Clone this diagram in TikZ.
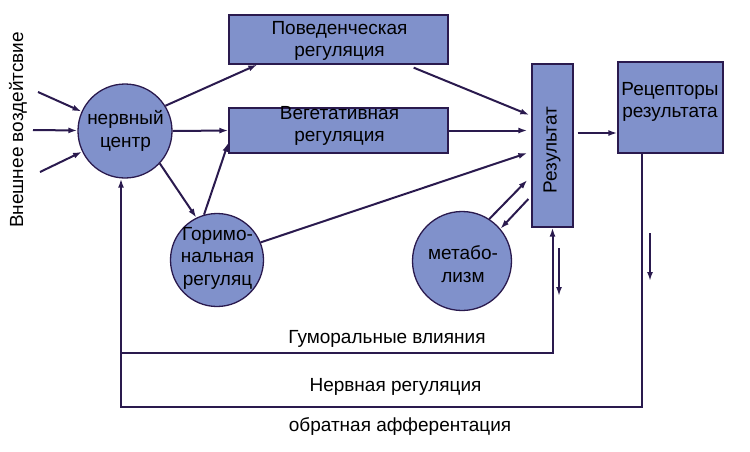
\documentclass[tikz,border=0pt]{standalone}
\usepackage{fontspec}
\setmainfont{Liberation Sans}
\usetikzlibrary{arrows.meta,calc}
\definecolor{fillc}{RGB}{128,145,203}
\definecolor{linec}{RGB}{42,26,78}
\begin{document}
\begin{tikzpicture}[x=1pt,y=-1pt,
  every node/.style={font=\fontsize{19}{22.5}\selectfont, text=black},
  blk/.style={draw=linec, fill=fillc, line width=1.3pt, inner sep=0pt},
  circ/.style={blk, circle},
  lbl/.style={align=center, inner sep=0pt},
  arr/.style={draw=linec, line width=2pt, -{Latex[length=9pt,width=6pt]}},
  ln/.style={draw=linec, line width=2pt}]
\useasboundingbox (0,0) rectangle (750,451);

% shapes
\node[circ, minimum size=94] (nc) at (125,131) {};
\node[lbl] (nct) at (125.5,131) {нервный\\центр};
\node[blk, minimum width=219, minimum height=49] (pov) at (338.5,39.5) {};
\node[lbl] (povt) at (339.5,41) {Поведенческая\\регуляция};
\node[blk, minimum width=219, minimum height=45] (veg) at (338.5,130.5) {};
\node[lbl] (vegt) at (339.5,126) {Вегетативная\\регуляция};
\node[circ, minimum size=93] (gor) at (217,260) {};
\node[lbl] (gort) at (217.5,258) {Горимо-\\нальная\\регуляц};
\node[circ, minimum size=99] (met) at (462,261) {};
\node[lbl] (mett) at (463,264) {метабо-\\лизм};
\node[blk, minimum width=41, minimum height=163] (rez) at (552.5,145.5) {};
\node[lbl, rotate=90] (rezt) at (552,150) {Результат};
\node[blk, minimum width=105, minimum height=91] (rec) at (670.5,107.5) {};
\node[lbl] (rect) at (670,102) {Рецепторы\\результата};

% outside labels
\node[lbl, rotate=90] (ext) at (18,130) {Внешнее воздейтсвие};
\node[lbl] (huml) at (387,339) {Гуморальные влияния};
\node[lbl] (nervl) at (395.5,387) {Нервная регуляция};
\node[lbl] (affl) at (400,426) {обратная афферентация};

% free ends
\coordinate (i1) at (38,92);
\coordinate (i2) at (33,130);
\coordinate (i3) at (40,172);
\coordinate (hl) at (121,353);
\coordinate (nl) at (121,407);
\coordinate (d1a) at (559,248);
\coordinate (d1b) at (559,296);
\coordinate (d2a) at (650,233);
\coordinate (d2b) at (650,281);
\coordinate (rr) at ($(rez.east)+(4,-12.5)$);

% input arrows
\draw[arr] (i1) -- (nc);
\draw[arr] (i2) -- (nc);
\draw[arr] (i3) -- (nc);

% from nerve center
\draw[arr] (nc.32) -- ($(pov.south west)+(29,0)$);
\draw[arr] (nc.east) -- (veg.west);
\draw[arr] (nc.-43) -- (gor.116);
\draw[arr] (gor.106) -- ($(veg.south west)+(0,-11)$);

% into result
\draw[arr] ($(pov.south east)+(-35,3)$) -- ($(rez.west)+(-2,-30.5)$);
\draw[arr] (veg.east) -- ($(veg.east -| rez.west)+(-4,0)$);
\draw[arr] (gor.22) -- ($(rez.west)+(-4,7.5)$);
\draw[arr] (met.57) -- ($(rez.west)+(-4,34.5)$);
\draw[arr] ($(rez.west)+(-3,53.5)$) -- (met.40);
\draw[arr] (rr) -- (rr -| rec.west);

% feedback loops
\draw[draw=linec, line width=2pt, {Latex[length=9pt,width=6pt]}-{Latex[length=9pt,width=6pt]}]
  ($(nc.south)+(-4,0)$) -- (hl) -| (rez.south);
\draw[ln] ($(rec.south west)+(25,0)$) |- (nl) -- (hl);

% free down arrows
\draw[arr] (d1a) -- (d1b);
\draw[arr] (d2a) -- (d2b);
\end{tikzpicture}
\end{document}
